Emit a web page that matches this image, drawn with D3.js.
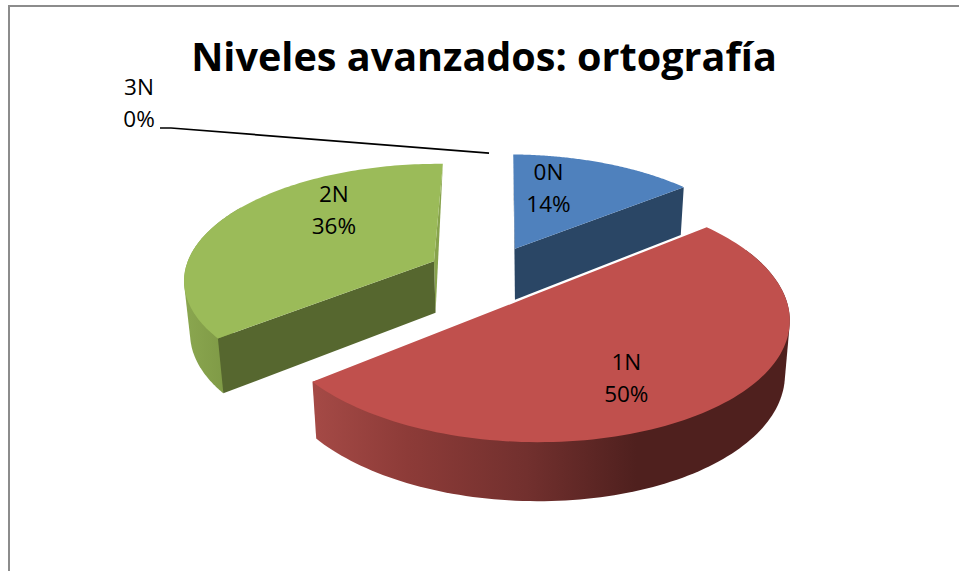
<!DOCTYPE html>
<html><head><meta charset="utf-8"><style>html,body{margin:0;background:#fff}svg{display:block}</style>
<script src="https://cdn.jsdelivr.net/npm/d3@7"></script></head><body><svg id="c" width="959" height="571"></svg>
<script>
const chartTitle = "Niveles avanzados: ortografía";
const categories = ["0N", "1N", "2N", "3N"];
const shares = [14, 50, 36, 0];
const topColors = ["#4f81bd", "#c0504d", "#9bbb59", "#8064a2"];
const faceColors = ["#2a4665", "#7a3230", "#56672f", "#4d3c62"];
const backFaceColors = ["#2a4665", "#7a3230", "#87a34c", "#4d3c62"];

// view of the tilted pie
const view = {cx: 488.92, cy: 273.74, A: 249.33, B: 2.02, C: 2.02, D: -115.61, p: 0.1513, explode: 0.2483};
const depth = {h: 52, p: 0.1, converge: 0.018, axisX: 520};
// where each label sits inside its slice: radius fraction and angle in degrees
const labelSpots = [[0.62, 14.6], [0.689, 151.1], [0.658, 316.1]];

const svg = d3.select("#c");
const defs = svg.append("defs");
const grad = defs.append("linearGradient").attr("id", "redWall").attr("gradientUnits", "userSpaceOnUse")
  .attr("x1", 312).attr("x2", 789).attr("y1", 0).attr("y2", 0);
[[0, "#a54a46"], [0.2, "#8d3b38"], [0.45, "#72302e"], [0.68, "#4f201e"], [1, "#4f201e"]]
  .forEach(([o, c]) => grad.append("stop").attr("offset", o).attr("stop-color", c));
const gradG = defs.append("linearGradient").attr("id", "greenWall").attr("gradientUnits", "userSpaceOnUse")
  .attr("x1", 186).attr("x2", 225).attr("y1", 0).attr("y2", 0);
[[0, "#8aa64f"], [1, "#7f9a46"]].forEach(([o, c]) => gradG.append("stop").attr("offset", o).attr("stop-color", c));

// frame
const frame = d3.path();
frame.moveTo(9, 571); frame.lineTo(9, 6); frame.lineTo(959, 6);
svg.append("path").attr("d", frame.toString()).attr("fill", "none").attr("stroke", "#8c8c8c").attr("stroke-width", 2);

const pieGen = d3.pie().sort(null).value(d => d);
const arcs = pieGen(shares);

function ground(mid, r, t) {
  return [view.explode * Math.sin(mid) + r * Math.sin(t), view.explode * Math.cos(mid) + r * Math.cos(t)];
}
function topPt(mid, r, t) {
  const [X, Y] = ground(mid, r, t), w = 1 + view.p * Y;
  return [view.cx + (view.A * X + view.B * Y) / w, view.cy + (view.C * X + view.D * Y) / w];
}
function lowPt(mid, r, t) {
  const [, Y] = ground(mid, r, t), q = topPt(mid, r, t);
  return [q[0] - depth.converge * (q[0] - depth.axisX), q[1] + depth.h / (1 + depth.p * Y)];
}
const line = d3.line();
const closed = pts => line(pts) + "Z";
const sweep = (a, b) => d3.range(0, 121).map(i => a + (b - a) * i / 120);

// painted back to front
const order = [3, 2, 0, 1];
const frontFrom = 65 * Math.PI / 180, frontTo = 300 * Math.PI / 180;
order.forEach(i => {
  const a = arcs[i], mid = (a.startAngle + a.endAngle) / 2, g = svg.append("g");
  if (a.endAngle - a.startAngle <= 0) return;
  const s = a.startAngle, e = a.endAngle;
  const ws = Math.max(s, frontFrom), we = Math.min(e, frontTo);
  if (we > ws) {
    const th = sweep(ws, we);
    const hull = d3.polygonHull(th.map(t => topPt(mid, 1, t)).concat(th.map(t => lowPt(mid, 1, t))));
    g.append("path").attr("d", closed(hull))
      .attr("fill", i === 1 ? "url(#redWall)" : i === 2 ? "url(#greenWall)" : faceColors[i]);
  }
  // sliver of the far radial cut
  if (i === 0 || i === 2) {
    const far = i === 0 ? s : e, near = i === 0 ? e : s;
    g.append("path").attr("d", closed([topPt(mid, 1, far), topPt(mid, 0, far), lowPt(mid, 0, far)])).attr("fill", backFaceColors[i]);
    g.append("path").attr("d", closed([topPt(mid, 0, near), topPt(mid, 1, near), lowPt(mid, 1, near), lowPt(mid, 0, near)])).attr("fill", faceColors[i]);
  }
  const rim = sweep(s, e).map(t => topPt(mid, 1, t));
  g.append("path").attr("d", closed([topPt(mid, 0, s)].concat(rim))).attr("fill", topColors[i]);
});

const font = "'Open Sans', sans-serif";
function label(x, y, k) {
  const t = svg.append("text").attr("text-anchor", "middle").attr("font-family", font).attr("font-size", 22.5).attr("fill", "#000");
  t.append("tspan").attr("x", x).attr("y", y - 9).text(categories[k]);
  t.append("tspan").attr("x", x).attr("y", y + 23).text(shares[k] + "%");
}
labelSpots.forEach(([r, deg], i) => {
  const a = arcs[i], q = topPt((a.startAngle + a.endAngle) / 2, r, deg * Math.PI / 180);
  label(q[0], q[1], i);
});

// leader for the empty slice
const z = arcs[3], tip = topPt(z.startAngle, 0.99, 0);
svg.append("path").attr("d", line([[160, 128], [171, 128], [tip[0] - 2, tip[1]]])).attr("fill", "none").attr("stroke", "#000").attr("stroke-width", 1.7);
label(139, 104, 3);

svg.append("text").attr("x", 484).attr("y", 71).attr("text-anchor", "middle").attr("font-family", font)
  .attr("font-weight", 700).attr("font-size", 39.6).attr("fill", "#000").text(chartTitle);
</script></body></html>
